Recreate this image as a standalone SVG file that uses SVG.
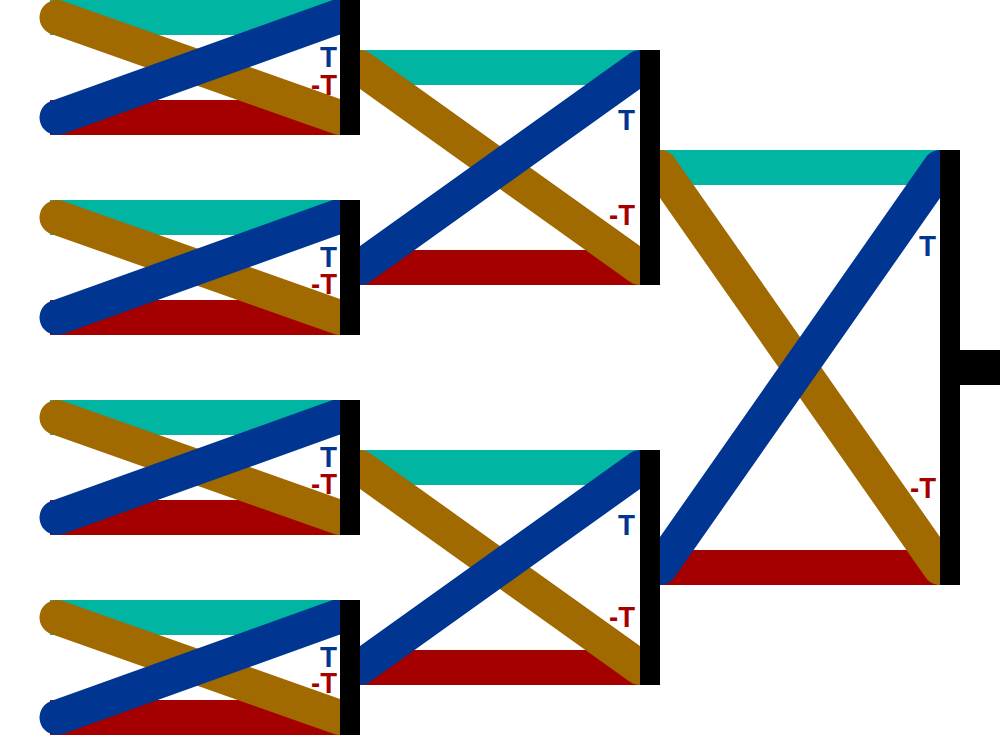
<svg xmlns="http://www.w3.org/2000/svg" width="1000" height="735" viewBox="0 0 1000 735">
<style>
.teal{fill:#00B5A2}
.red{fill:#A50000}
.brown{stroke:#A06A00;stroke-width:35;stroke-linecap:round;fill:none}
.blue{stroke:#003592;stroke-width:35;stroke-linecap:round;fill:none}
.bar{fill:#000}
.lbl{font-family:"Liberation Sans",Arial,sans-serif;font-weight:bold;font-size:30px;text-anchor:end}
.tp{fill:#003592}
.tn{fill:#A50000}
</style>
<defs>
<clipPath id="c1a"><rect x="0" y="0" width="340" height="135"/></clipPath>
<clipPath id="c1b"><rect x="0" y="200" width="340" height="135"/></clipPath>
<clipPath id="c1c"><rect x="0" y="400" width="340" height="135"/></clipPath>
<clipPath id="c1d"><rect x="0" y="600" width="340" height="135"/></clipPath>
<clipPath id="c2a"><rect x="360" y="50" width="280" height="235"/></clipPath>
<clipPath id="c2b"><rect x="360" y="450" width="280" height="235"/></clipPath>
<clipPath id="c3"><rect x="660" y="150" width="280" height="435"/></clipPath>
</defs>
<g id="connectors">
<g clip-path="url(#c1a)">
<rect class="teal" x="50" y="0" width="290" height="35"/>
<rect class="red" x="50" y="100" width="290" height="35"/>
<line class="brown" x1="57" y1="17.5" x2="340" y2="117.5"/>
<line class="blue" x1="57" y1="117.5" x2="340" y2="16"/>
</g>
<g clip-path="url(#c1b)">
<rect class="teal" x="50" y="200" width="290" height="35"/>
<rect class="red" x="50" y="300" width="290" height="35"/>
<line class="brown" x1="57" y1="217.5" x2="340" y2="317.5"/>
<line class="blue" x1="57" y1="317.5" x2="340" y2="216"/>
</g>
<g clip-path="url(#c1c)">
<rect class="teal" x="50" y="400" width="290" height="35"/>
<rect class="red" x="50" y="500" width="290" height="35"/>
<line class="brown" x1="57" y1="417.5" x2="340" y2="517.5"/>
<line class="blue" x1="57" y1="517.5" x2="340" y2="416"/>
</g>
<g clip-path="url(#c1d)">
<rect class="teal" x="50" y="600" width="290" height="35"/>
<rect class="red" x="50" y="700" width="290" height="35"/>
<line class="brown" x1="57" y1="617.5" x2="340" y2="717.5"/>
<line class="blue" x1="57" y1="717.5" x2="340" y2="616"/>
</g>
<g clip-path="url(#c2a)">
<rect class="teal" x="360" y="50" width="280" height="35"/>
<rect class="red" x="360" y="250" width="280" height="35"/>
<line class="brown" x1="360" y1="67.5" x2="640" y2="267.5"/>
<line class="blue" x1="360" y1="267.5" x2="640" y2="67.5"/>
</g>
<g clip-path="url(#c2b)">
<rect class="teal" x="360" y="450" width="280" height="35"/>
<rect class="red" x="360" y="650" width="280" height="35"/>
<line class="brown" x1="360" y1="467.5" x2="640" y2="667.5"/>
<line class="blue" x1="360" y1="667.5" x2="640" y2="467.5"/>
</g>
<g clip-path="url(#c3)">
<rect class="teal" x="660" y="150" width="280" height="35"/>
<rect class="red" x="660" y="550" width="280" height="35"/>
<line class="brown" x1="660" y1="167.5" x2="940" y2="567.5"/>
<line class="blue" x1="660" y1="567.5" x2="940" y2="167.5"/>
</g>
</g>
<g id="node-s1-0">
<rect class="bar" x="340" y="0" width="20" height="135"/>
<text class="lbl tp" x="337" y="67" textLength="17" lengthAdjust="spacingAndGlyphs">T</text>
<text class="lbl tn" x="337" y="95" textLength="26" lengthAdjust="spacingAndGlyphs">-T</text>
</g>
<g id="node-s1-1">
<rect class="bar" x="340" y="200" width="20" height="135"/>
<text class="lbl tp" x="337" y="267" textLength="17" lengthAdjust="spacingAndGlyphs">T</text>
<text class="lbl tn" x="337" y="294" textLength="26" lengthAdjust="spacingAndGlyphs">-T</text>
</g>
<g id="node-s1-2">
<rect class="bar" x="340" y="400" width="20" height="135"/>
<text class="lbl tp" x="337" y="467" textLength="17" lengthAdjust="spacingAndGlyphs">T</text>
<text class="lbl tn" x="337" y="494" textLength="26" lengthAdjust="spacingAndGlyphs">-T</text>
</g>
<g id="node-s1-3">
<rect class="bar" x="340" y="600" width="20" height="135"/>
<text class="lbl tp" x="337" y="667" textLength="17" lengthAdjust="spacingAndGlyphs">T</text>
<text class="lbl tn" x="337" y="693" textLength="26" lengthAdjust="spacingAndGlyphs">-T</text>
</g>
<g id="node-s2-0">
<rect class="bar" x="640" y="50" width="20" height="235"/>
<text class="lbl tp" x="635" y="130" textLength="17" lengthAdjust="spacingAndGlyphs">T</text>
<text class="lbl tn" x="635" y="225" textLength="26" lengthAdjust="spacingAndGlyphs">-T</text>
</g>
<g id="node-s2-1">
<rect class="bar" x="640" y="450" width="20" height="235"/>
<text class="lbl tp" x="635" y="535" textLength="17" lengthAdjust="spacingAndGlyphs">T</text>
<text class="lbl tn" x="635" y="627" textLength="26" lengthAdjust="spacingAndGlyphs">-T</text>
</g>
<g id="node-s3">
<rect class="bar" x="940" y="150" width="20" height="435"/>
<rect class="bar" x="960" y="350" width="40" height="35"/>
<text class="lbl tp" x="936" y="256" textLength="17" lengthAdjust="spacingAndGlyphs">T</text>
<text class="lbl tn" x="936" y="498" textLength="26" lengthAdjust="spacingAndGlyphs">-T</text>
</g>
</svg>
